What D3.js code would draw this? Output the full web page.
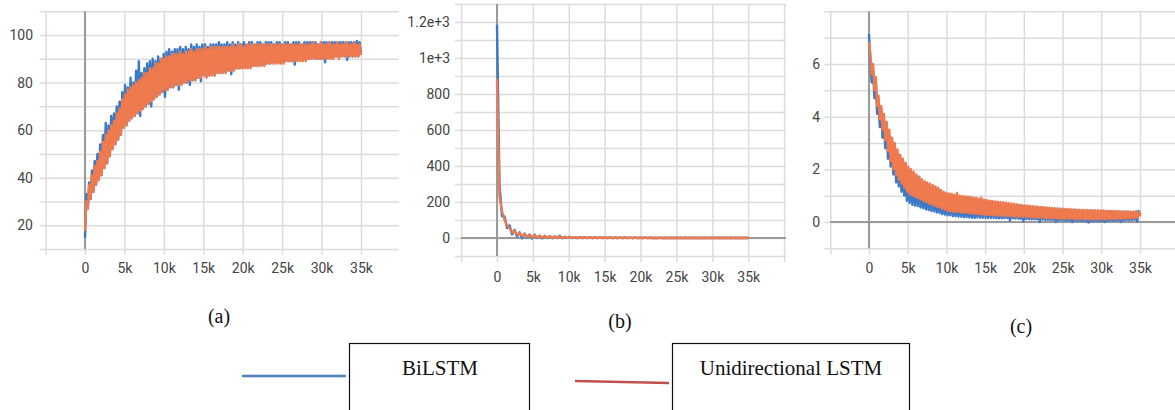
<!DOCTYPE html>
<html><head><meta charset="utf-8">
<script src="https://cdn.jsdelivr.net/npm/d3@7"></script>
<style>body{margin:0;background:#fff}svg{display:block}</style>
</head><body>
<svg id="chart" width="1175" height="410"></svg>
<script>
// ---------- data ----------
const stepsFine = d3.range(0, 35001, 175);   // 201 logged steps, panels (a) and (c)
const stepsCoarse = d3.range(0, 35001, 350); // 101 logged steps, panel (b)
const xGridValues = [-5000, 0, 5000, 10000, 15000, 20000, 25000, 30000, 35000, 40000];
const xTickValues = [0, 5000, 10000, 15000, 20000, 25000, 30000, 35000];
const xTickLabels = ["0", "5k", "10k", "15k", "20k", "25k", "30k", "35k"];

// (a)
const aBiLSTM = [
  15,33,27,38,31,43,34,47,37,50, 39,54,41,58,44,63,46,62,49,66,
  52,67,54,70,56,72,58,76,61,79, 62,78,64,82,65,80,66,85,67,89,
  66,84,69,86,70,88,71,89,70,90, 73,89,74,91,75,90,76,92,74,93,
  77,94,78,93,78,94,79,94,77,95, 79.5,94,80,95,80,94,79,96,81,95,
  81,96,82,95,80.5,96,83,96,82.5,95, 83,96,83.5,96,83,96,84,97,84,96,
  84.5,96,84.5,97,85,96,83.5,97,85.5,96, 86,97,86,96,86.5,97,86.5,96,86.5,97,
  86.5,97,87,96,87,97,87,97,87.5,96, 87.5,97,88,97,88,97,88.5,96,88.5,97,
  88.5,97,88.5,96,88.5,97,89,97,89,96, 89,97,87.5,97,89.5,97,89.5,96,89.5,97,
  89.5,97,90,97,90.5,97,90.5,97,90,96, 90,97,90,97,88.5,97,90.5,97,90.5,97,
  90.5,97,91,97,90.5,97,91,97,91,97, 89.5,97,91,97,91,97,91,97.5,91,97,
  93];
const aUniLSTM = [
  18,30,27,37,31,41,34,45,37,47, 39,51,41,55,44,58,46,60,49,62,
  52,64,54,67,56,69,58,73,61,75, 62,77,64,78,65,79,66,80,67,81,
  68,82,69,84,70,84,71,86,72,86, 73,88,74,88,75,90,76,90,77,91,
  77,91,78,92,78,92,79,92,79,93, 79,92,80,93,80,93,81,94,81,93,
  81,94,82,94,82,94,83,95,82,94, 83,95,83,95,83,95,84,95,84,95,
  84,95,84,95,85,95,85,96,85,95, 86,96,86,96,86,95,86,96,86,96,
  86,96,87,96,87,96,87,96,87,96, 87,96,88,96,88,96,88,96,88,96,
  88,96,88,96,88,96,89,96,89,96, 89,96,89,96,89,96,89,96,89,96,
  89,96,90,96,90,97,90,96,90,96, 90,97,90,96,90,96,90,97,90,96,
  90,96,91,97,90,96,91,96,91,97, 91,96,91,96,91,97,91,96,91,96,
  92];
const aTicks = [20, 40, 60, 80, 100];
const aTickLabels = ["20", "40", "60", "80", "100"];

// (b)
const bBiLSTM = [1180,300,120,120,55,70,20,45,8,32,-2,25,2,20,-3,18,0,14,-2,12,0,10,-1,9,0,12,-1,7,0,6,
  0,5,-1,5,0,4,0,5,-1,4,0,3,0,4,0,3,0,3,0,2,0,3,0,2,0,2,0,2,0,2,
  0,2,0,1,0,2,0,1,0,1,0,1,0,1,0,1,0,1,0,1,0,1,0,1,0,1,0,1,0,1,
  0,1,0,1,0,1,0,1,0,1,0];
const bUniLSTM = [880,230,150,100,70,55,30,38,18,28,10,22,6,18,4,14,3,12,2,10,2,9,1,8,1,7,0,6,1,5,
  0,5,0,4,1,4,0,3,0,4,0,3,0,3,0,2,0,3,0,2,0,2,0,2,0,2,0,1,0,2,
  0,1,0,1,0,1,0,1,0,1,0,1,0,1,0,1,0,1,0,1,0,1,0,1,0,1,0,1,0,1,
  0,1,0,1,0,1,0,1,0,1,0];
const bTicks = [0, 200, 400, 600, 800, 1000, 1200];
const bTickLabels = ["0", "200", "400", "600", "800", "1e+3", "1.2e+3"];

// (c)
const cBiLSTM = [
  7.1,6.0,5.3,5.8,4.7,5.4,4.1,4.6,3.6,4.3, 3.2,3.9,2.8,3.7,2.4,3.3,2.1,3.1,1.8,2.9,
  1.5,2.6,1.35,2.5,1.15,2.3,1.0,2.2,0.8,2.0, 0.72,1.95,0.65,1.85,0.62,1.75,0.6,1.72,0.55,1.55,
  0.52,1.5,0.48,1.45,0.45,1.4,0.42,1.38,0.4,1.3, 0.36,1.25,0.34,1.2,0.3,1.12,0.28,1.05,0.25,1.05,
  0.25,1.0,0.22,0.98,0.22,0.96,0.2,0.95,0.2,0.94, 0.18,0.92,0.18,0.9,0.17,0.9,0.16,0.88,0.15,0.86,
  0.17,0.85,0.16,0.83,0.16,0.82,0.15,0.8,0.15,0.78, 0.15,0.77,0.15,0.75,0.14,0.74,0.14,0.72,0.14,0.71,
  0.15,0.7,0.15,0.68,0.04,0.67,0.14,0.66,0.13,0.64, 0.13,0.63,0.12,0.62,0.02,0.6,0.12,0.6,0.11,0.58,
  0.1,0.57,0.1,0.56,0.1,0.55,0.0,0.55,0.09,0.54, 0.08,0.53,0.08,0.52,0.07,0.51,0.07,0.5,0.0,0.5,
  0.06,0.49,0.06,0.48,0.05,0.48,0.05,0.47,0.05,0.47, 0.0,0.46,0.04,0.46,0.04,0.45,0.04,0.45,0.04,0.44,
  0.03,0.44,-0.02,0.44,0.03,0.43,0.03,0.43,0.03,0.43, 0.03,0.42,0.03,0.42,0.0,0.41,0.04,0.41,0.04,0.41,
  0.04,0.4,0.05,0.4,0.05,0.4,0.0,0.39,0.06,0.39, 0.06,0.39,0.07,0.38,0.07,0.38,0.08,0.4,0.02,0.42,
  0.3];
const cUniLSTM = [
  6.8,6.4,5.6,6.0,5.0,5.5,4.4,4.8,3.9,4.4, 3.5,4.1,3.1,3.8,2.7,3.5,2.3,3.2,2.0,3.0,
  1.8,2.75,1.6,2.55,1.45,2.4,1.3,2.25,1.15,2.1, 1.05,2.0,1.0,1.9,0.95,1.8,0.9,1.7,0.85,1.62,
  0.8,1.55,0.75,1.5,0.7,1.45,0.66,1.4,0.62,1.35, 0.58,1.3,0.55,1.22,0.5,1.15,0.46,1.1,0.42,1.08,
  0.4,1.06,0.39,1.04,0.38,1.1,0.37,1.0,0.36,0.99, 0.35,0.97,0.34,0.96,0.33,0.95,0.32,0.93,0.31,0.91,
  0.3,0.89,0.29,0.92,0.28,0.85,0.26,0.83,0.26,0.81, 0.25,0.8,0.25,0.78,0.24,0.77,0.24,0.76,0.23,0.75,
  0.23,0.73,0.22,0.72,0.22,0.7,0.21,0.69,0.21,0.67, 0.2,0.66,0.2,0.64,0.19,0.63,0.19,0.62,0.18,0.61,
  0.18,0.6,0.17,0.59,0.17,0.58,0.16,0.57,0.16,0.56, 0.15,0.55,0.15,0.54,0.14,0.53,0.14,0.52,0.13,0.51,
  0.13,0.5,0.13,0.5,0.12,0.49,0.12,0.49,0.12,0.48, 0.12,0.48,0.11,0.47,0.11,0.47,0.11,0.46,0.11,0.46,
  0.1,0.46,0.1,0.45,0.1,0.45,0.1,0.44,0.1,0.44, 0.1,0.44,0.1,0.43,0.1,0.43,0.11,0.42,0.11,0.42,
  0.11,0.42,0.12,0.41,0.12,0.41,0.12,0.4,0.13,0.4, 0.13,0.4,0.13,0.39,0.14,0.39,0.14,0.38,0.15,0.38,
  0.25];
const cTicks = [0, 2, 4, 6];
const cTickLabels = ["0", "2", "4", "6"];

const captions = ["(a)", "(b)", "(c)"];
const legendLabels = ["BiLSTM", "Unidirectional LSTM"];
const seriesColors = ["#3a78c8", "#ef7a4e"];
const legendColors = ["#4f81bd", "#c0504d"];

// ---------- layout ----------
const panels = [
  {steps: stepsFine, bi: aBiLSTM, uni: aUniLSTM, ticks: aTicks, labels: aTickLabels,
   xr: [45.6, 400.4], right: 399, yd: [10, 110], yr: [249, 11.25], gstep: 10,
   labelEnd: 33, xLabelY: 274, zeroH: false, cap: [219, 323]},
  {steps: stepsCoarse, bi: bBiLSTM, uni: bUniLSTM, ticks: bTicks, labels: bTickLabels,
   xr: [461.1, 784.1], right: 786, yd: [-100, 1300], yr: [256, 4], gstep: 100,
   labelEnd: 450, xLabelY: 283, zeroH: true, cap: [620, 328]},
  {steps: stepsFine, bi: cBiLSTM, uni: cUniLSTM, ticks: cTicks, labels: cTickLabels,
   xr: [830.3, 1178.7], right: 1175, yd: [-1, 8], yr: [248.3, 11.3], gstep: 1,
   labelEnd: 820, xLabelY: 274, zeroH: true, cap: [1021, 333]}
];

const svg = d3.select("#chart");
svg.append("rect").attr("width", 1175).attr("height", 410).attr("fill", "#fff");

const gridColor = "#dcdcdc", axisColor = "#9a9a9a", textColor = "#444";
const tickFont = "Roboto, 'Open Sans', Arial, sans-serif";

panels.forEach((p, pi) => {
  const x = d3.scaleLinear().domain([-5000, 40000]).range(p.xr);
  const y = d3.scaleLinear().domain(p.yd).range(p.yr);
  const left = p.xr[0], top = p.yr[1], bottom = p.yr[0];
  const g = svg.append("g");
  const gridVals = d3.range(p.yd[0], p.yd[1] + p.gstep / 2, p.gstep);

  const yg = g.append("g").attr("transform", `translate(${left - 6},0)`)
    .call(d3.axisLeft(y).tickValues(gridVals).tickSize(-(p.right - left + 6)).tickFormat(""));
  yg.select(".domain").remove();
  yg.selectAll("line").attr("stroke", gridColor).attr("stroke-width", 1.5);

  const xg = g.append("g").attr("transform", `translate(0,${top})`)
    .call(d3.axisBottom(x).tickValues(xGridValues.filter(v => x(v) <= p.right + 0.5)).tickSize(bottom + 6 - top).tickFormat(""));
  xg.select(".domain").remove();
  xg.selectAll("line").attr("stroke", gridColor).attr("stroke-width", 1.5);

  g.append("line").attr("x1", x(0)).attr("x2", x(0)).attr("y1", top).attr("y2", bottom)
    .attr("stroke", axisColor).attr("stroke-width", 2);
  if (p.zeroH) {
    g.append("line").attr("x1", left).attr("x2", p.right).attr("y1", y(0)).attr("y2", y(0))
      .attr("stroke", axisColor).attr("stroke-width", 2);
  }

  const yl = g.append("g").attr("transform", `translate(${p.labelEnd},0)`)
    .call(d3.axisLeft(y).tickValues(p.ticks).tickSize(0).tickPadding(0)
      .tickFormat((d, i) => p.labels[i]));
  yl.select(".domain").remove();
  yl.selectAll("text").attr("fill", textColor).attr("font-size", 14).attr("font-family", tickFont);

  const xl = g.append("g").attr("transform", `translate(0,${p.xLabelY - 11})`)
    .call(d3.axisBottom(x).tickValues(xTickValues).tickSize(0).tickPadding(0)
      .tickFormat((d, i) => xTickLabels[i]));
  xl.select(".domain").remove();
  xl.selectAll("text").attr("fill", textColor).attr("font-size", 14).attr("font-family", tickFont);

  const line = d3.line().x((d, i) => x(p.steps[i])).y(d => y(d));
  [p.bi, p.uni].forEach((vals, si) => {
    g.append("path").datum(vals).attr("d", line)
      .attr("fill", "none").attr("stroke", seriesColors[si])
      .attr("stroke-width", 2.4).attr("stroke-linejoin", "round").attr("stroke-linecap", "round");
  });

  svg.append("text").attr("x", p.cap[0]).attr("y", p.cap[1]).attr("text-anchor", "middle")
    .attr("font-family", "'Liberation Serif', 'Times New Roman', serif").attr("font-size", 20)
    .attr("fill", "#111").text(captions[pi]);
});

// ---------- legend ----------
const legend = [
  {line: [242, 376, 346, 376], box: [349.5, 343.5, 180, 80], text: [440, 375]},
  {line: [575, 381, 669, 383], box: [672.5, 343.5, 237, 80], text: [791, 375]}
];
legend.forEach((l, i) => {
  svg.append("line").attr("x1", l.line[0]).attr("y1", l.line[1]).attr("x2", l.line[2]).attr("y2", l.line[3])
    .attr("stroke", legendColors[i]).attr("stroke-width", 2.5);
  svg.append("rect").attr("x", l.box[0]).attr("y", l.box[1]).attr("width", l.box[2]).attr("height", l.box[3])
    .attr("fill", "none").attr("stroke", "#111").attr("stroke-width", 1.2);
  svg.append("text").attr("x", l.text[0]).attr("y", l.text[1]).attr("text-anchor", "middle")
    .attr("font-family", "'Liberation Serif', 'Times New Roman', serif").attr("font-size", 21)
    .attr("fill", "#111").text(legendLabels[i]);
});
</script>
</body></html>
